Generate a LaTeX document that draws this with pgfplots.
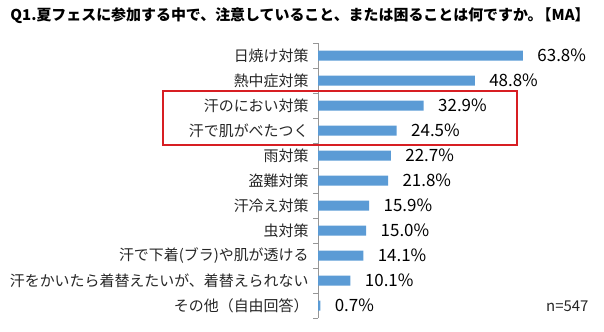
\documentclass[border=0pt]{standalone}
\usepackage{fontspec}
\setmainfont{Noto Sans CJK JP}
\usepackage{pgfplots}
\pgfplotsset{compat=1.18}
\definecolor{barblue}{RGB}{91,155,213}
\definecolor{boxred}{RGB}{215,30,35}
\definecolor{axgray}{RGB}{150,150,150}
\begin{document}
\begin{tikzpicture}[x=1bp,y=1bp]
\useasboundingbox (0,0) rectangle (604,331);
\node[font=\fontsize{15}{18}\selectfont\bfseries] at (300,315) {Q1.夏フェスに参加する中で、注意していること、または困ることは何ですか。\hspace{-0.4em}【MA】};
\begin{axis}[
  at={(318bp,13bp)}, anchor=south west,
  scale only axis, width=257bp, height=275bp,
  xbar, bar width=10bp, bar shift=0pt,
  xmin=0, xmax=80, ymin=-0.5, ymax=10.5, y dir=reverse,
  axis lines*=left,
  x axis line style={draw=none},
  y axis line style={draw=axgray, line width=0.8bp},
  xtick=\empty,
  ytick={0,...,10},
  yticklabels={日焼け対策,熱中症対策,汗のにおい対策,汗で肌がべたつく,雨対策,盗難対策,汗冷え対策,虫対策,汗で下着(ブラ)や肌が透ける,{汗をかいたら着替えたいが、着替えられない},その他（自由回答）},
  major tick length=0pt,
  minor ytick={-0.5,0.5,...,10.5},
  minor tick length=5bp,
  tick align=outside,
  minor tick style={draw=axgray, line width=0.8bp},
  yticklabel style={font=\fontsize{15}{17}\selectfont, text=black!85, xshift=-6bp},
  nodes near coords={\pgfmathprintnumber[fixed,precision=1,fixed zerofill,assume math mode=true]{\pgfplotspointmeta}\%},
  nodes near coords style={anchor=west, xshift=11bp, font=\fontsize{17}{19}\selectfont, text=black},
  clip=false,
]
\addplot[fill=barblue, draw=none] coordinates {
(63.8,0) (48.8,1) (32.9,2) (24.5,3) (22.7,4) (21.8,5) (15.9,6) (15.0,7) (14.1,8) (10.1,9) (0.7,10)
};
\end{axis}
\draw[boxred, line width=2bp] (163,186) rectangle (517,240);
\node[anchor=east, font=\fontsize{15}{17}\selectfont, text=black!85] at (592,25) {n=547};
\end{tikzpicture}
\end{document}
